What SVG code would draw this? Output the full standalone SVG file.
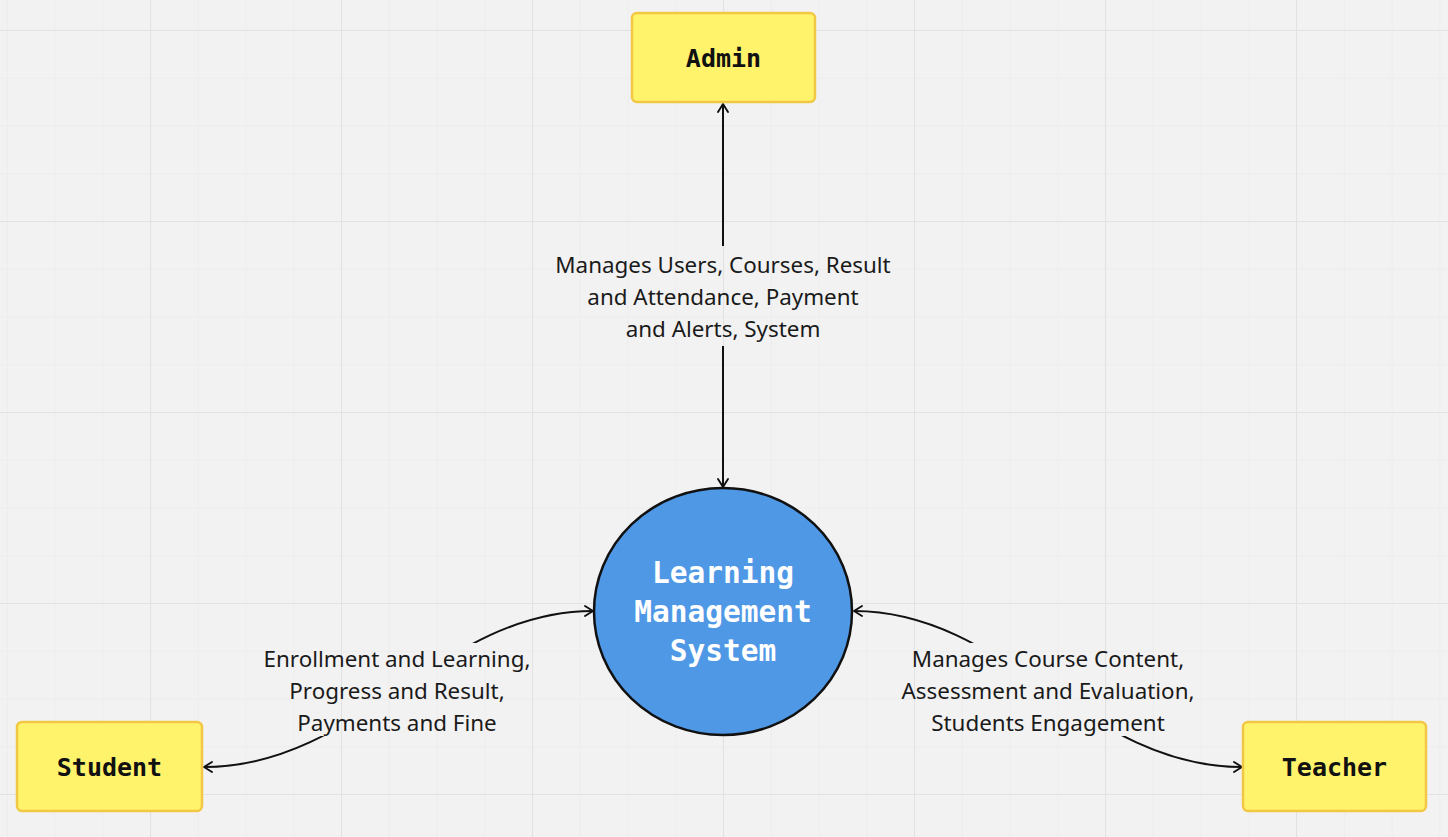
<svg xmlns="http://www.w3.org/2000/svg" width="1448" height="837" viewBox="0 0 1448 837">
<defs>
<pattern id="minor" x="6.9" y="30" width="47.75" height="47.75" patternUnits="userSpaceOnUse">
<path d="M0 0V47.75M0 0H47.75" stroke="#ebebeb" stroke-width="1.5" fill="none"/>
</pattern>
<pattern id="major" x="150" y="30" width="191" height="191" patternUnits="userSpaceOnUse">
<path d="M0 0V191M0 0H191" stroke="#e2e2e2" stroke-width="2" fill="none"/>
</pattern>
<marker id="arr" viewBox="0 0 12 12" refX="11" refY="6" markerWidth="12" markerHeight="12" markerUnits="userSpaceOnUse" orient="auto-start-reverse">
<path d="M3 1L11 6L3 11" fill="none" stroke="#111" stroke-width="1.9" stroke-linecap="round" stroke-linejoin="round"/>
</marker>
<mask id="gaps" maskUnits="userSpaceOnUse" x="0" y="0" width="1448" height="837">
<rect x="0" y="0" width="1448" height="837" fill="#fff"/>
<rect x="550" y="246" width="346" height="100" fill="#000"/>
<rect x="258" y="643" width="280" height="93" fill="#000"/>
<rect x="895" y="643" width="306" height="93" fill="#000"/>
</mask>
</defs>
<style>
.box{fill:#fff36b;stroke:#f2c744;stroke-width:2.5}
.ntxt{font-family:"DejaVu Sans Mono","Liberation Mono",monospace;font-weight:bold;font-size:25px;fill:#111;text-anchor:middle;dominant-baseline:central}
.ctxt{font-family:"DejaVu Sans Mono","Liberation Mono",monospace;font-weight:bold;font-size:29.5px;fill:#fff;text-anchor:middle;dominant-baseline:central}
.lbl{font-family:"Noto Sans","Open Sans",sans-serif;font-size:22.4px;fill:#1a1a1a;text-anchor:middle;dominant-baseline:central}
.con{fill:none;stroke:#111;stroke-width:2}
</style>
<rect width="1448" height="837" fill="#f2f2f2"/>
<rect width="1448" height="837" fill="url(#minor)"/>
<rect width="1448" height="837" fill="url(#major)"/>

<g id="connectors" mask="url(#gaps)">
<path class="con" d="M723 104V487" marker-start="url(#arr)" marker-end="url(#arr)"/>
<path class="con" d="M204 767C360 767 440 611 593 611" marker-start="url(#arr)" marker-end="url(#arr)"/>
<path class="con" d="M854 611C1006 611 1086 767 1242 767" marker-start="url(#arr)" marker-end="url(#arr)"/>
</g>
<g id="labels">
<text class="lbl" x="723" y="264">Manages Users, Courses, Result</text>
<text class="lbl" x="723" y="296">and Attendance, Payment</text>
<text class="lbl" x="723" y="328">and Alerts, System</text>
<text class="lbl" x="397" y="658">Enrollment and Learning,</text>
<text class="lbl" x="397" y="690">Progress and Result,</text>
<text class="lbl" x="397" y="722">Payments and Fine</text>
<text class="lbl" x="1048" y="658">Manages Course Content,</text>
<text class="lbl" x="1048" y="690">Assessment and Evaluation,</text>
<text class="lbl" x="1048" y="722">Students Engagement</text>
</g>

<g id="admin">
<rect class="box" x="632" y="13" width="183" height="89" rx="5"/>
<text class="ntxt" x="723.5" y="58">Admin</text>
</g>
<g id="lms">
<ellipse cx="723" cy="611.5" rx="129" ry="123.5" fill="#4f98e6" stroke="#111" stroke-width="2.5"/>
<text class="ctxt" x="723" y="573">Learning</text>
<text class="ctxt" x="723" y="612">Management</text>
<text class="ctxt" x="723" y="651">System</text>
</g>
<g id="student">
<rect class="box" x="17" y="722" width="185" height="89" rx="5"/>
<text class="ntxt" x="109.5" y="767">Student</text>
</g>
<g id="teacher">
<rect class="box" x="1243" y="722" width="183" height="89" rx="5"/>
<text class="ntxt" x="1334.5" y="767">Teacher</text>
</g>
</svg>
